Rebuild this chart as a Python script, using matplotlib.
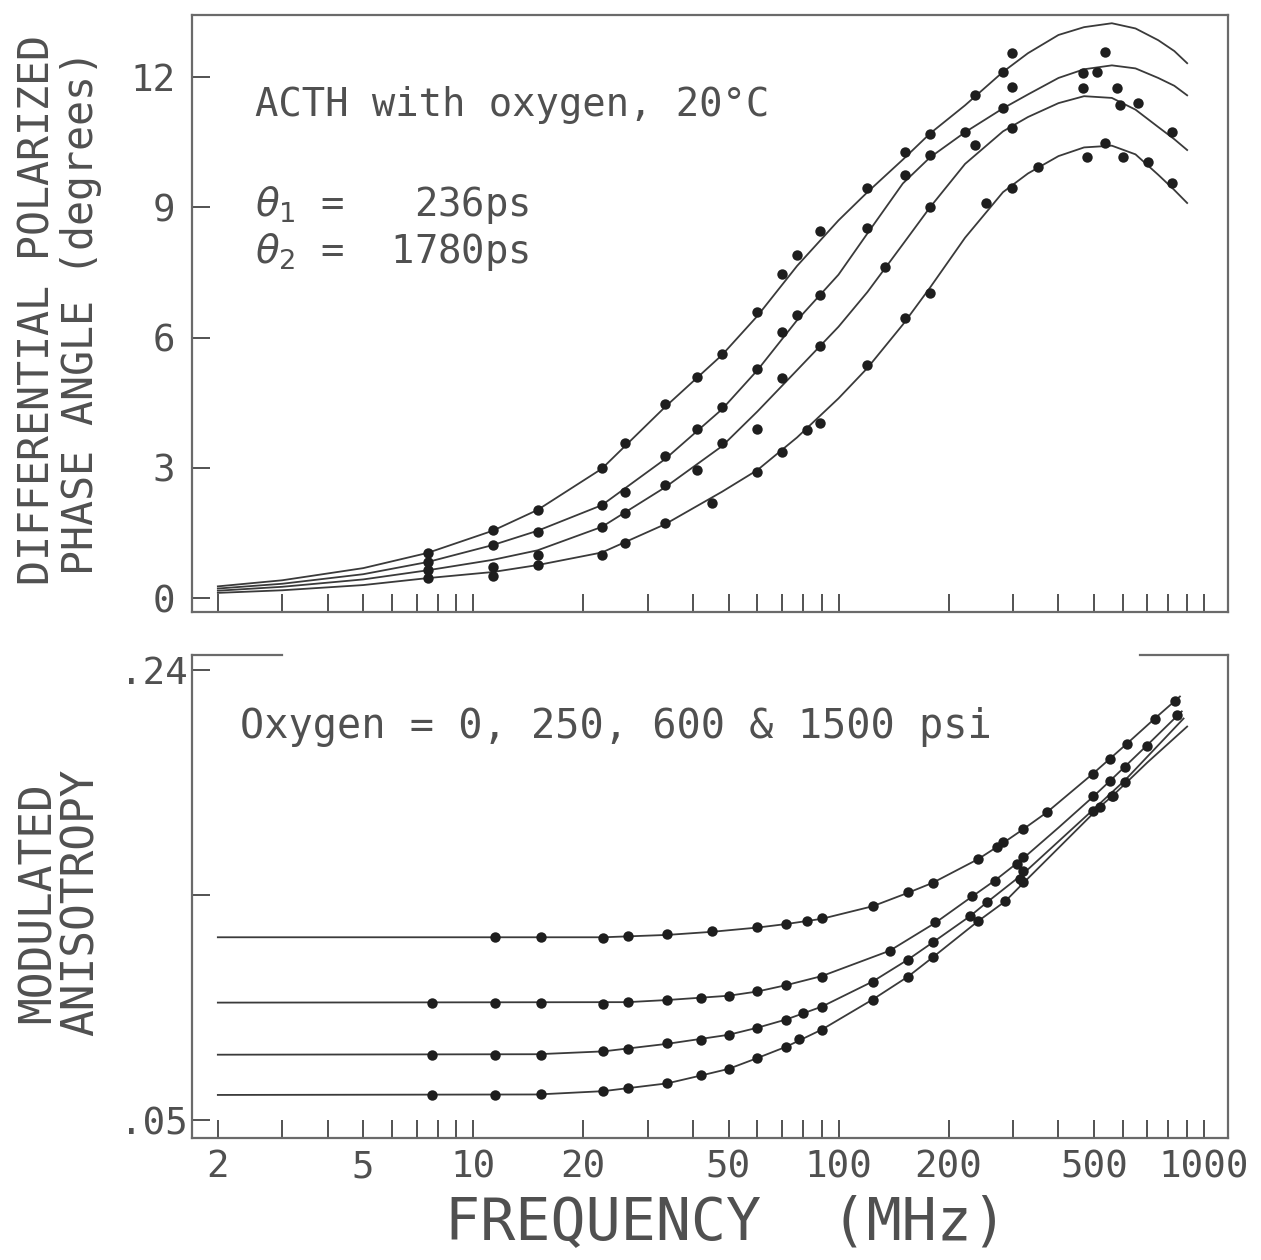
#!/usr/bin/env python

import numpy as np
import matplotlib
matplotlib.use('Agg')
import matplotlib.pyplot as plt
from matplotlib.ticker import FixedLocator, FixedFormatter

plt.rcParams['font.family'] = ['DejaVu Sans Mono', 'DejaVu Sans']
plt.rcParams['mathtext.fontset'] = 'dejavusans'

# ---- top panel: differential polarized phase angle (degrees) ----
# fitted curves
fit_freq = [2, 3, 5, 7.5, 11.3, 15, 22.5, 33.5, 48, 60, 77, 100, 120, 150, 178, 222, 282,
            330, 400, 470, 560, 650, 750, 830, 900]
fitA = [0.27, 0.41, 0.69, 1.04, 1.55, 2.03, 2.98, 4.4, 5.6, 6.5, 7.65, 8.7, 9.35, 10.1, 10.7,
        11.35, 12.12, 12.55, 12.97, 13.15, 13.24, 13.12, 12.85, 12.6, 12.32]
fitB = [0.22, 0.33, 0.55, 0.83, 1.22, 1.55, 2.14, 3.2, 4.35, 5.25, 6.4, 7.45, 8.4, 9.55, 10.15,
        10.73, 11.28, 11.6, 11.98, 12.18, 12.27, 12.2, 11.98, 11.8, 11.58]
fitC = [0.17, 0.26, 0.43, 0.64, 0.88, 1.1, 1.64, 2.55, 3.5, 4.3, 5.25, 6.25, 7.05, 8.15, 9.0,
        10.0, 10.75, 11.08, 11.4, 11.56, 11.52, 11.25, 10.85, 10.57, 10.32]
fitD = [0.12, 0.18, 0.3, 0.46, 0.6, 0.76, 1.05, 1.7, 2.45, 2.95, 3.7, 4.6, 5.3, 6.3, 7.15,
        8.3, 9.35, 9.78, 10.18, 10.38, 10.42, 10.22, 9.75, 9.4, 9.1]

# measured points
ptA_f = [7.5, 11.3, 15, 22.5, 26, 33.5, 41, 48, 60, 70, 77, 89, 120, 152, 178, 236, 282, 298, 536]
ptA_y = [1.04, 1.57, 2.03, 2.99, 3.57, 4.46, 5.09, 5.62, 6.59, 7.46, 7.9, 8.45, 9.44, 10.27, 10.7, 11.58, 12.11, 12.55, 12.57]
ptB_f = [7.5, 11.3, 15, 22.5, 26, 33.5, 41, 48, 60, 70, 77, 89, 120, 152, 178, 222, 282, 298, 466, 510]
ptB_y = [0.83, 1.22, 1.52, 2.14, 2.44, 3.27, 3.89, 4.4, 5.27, 6.13, 6.52, 6.98, 8.52, 9.74, 10.2, 10.73, 11.28, 11.77, 12.09, 12.11]
ptC_f = [7.5, 11.3, 15, 22.5, 26, 33.5, 41, 48, 60, 70, 89, 134, 178, 236, 298, 466, 578, 590, 660, 817]
ptC_y = [0.64, 0.71, 0.99, 1.64, 1.96, 2.6, 2.95, 3.57, 3.9, 5.07, 5.8, 7.62, 9.0, 10.43, 10.82, 11.75, 11.75, 11.35, 11.4, 10.73]
ptD_f = [7.5, 11.3, 15, 22.5, 26, 33.5, 45, 60, 70, 82, 89, 120, 152, 178, 254, 298, 351, 478, 536, 600, 703, 817]
ptD_y = [0.46, 0.51, 0.76, 0.99, 1.27, 1.73, 2.19, 2.9, 3.36, 3.87, 4.03, 5.37, 6.45, 7.02, 9.1, 9.44, 9.93, 10.16, 10.48, 10.16, 10.04, 9.56]

# ---- bottom panel: modulated anisotropy ----
fit1_f = [2, 22.7, 34, 45, 60, 72, 90, 124, 155, 181, 241, 282, 320, 372, 497, 553, 616, 734, 860]
fit1_y = [0.1272, 0.1272, 0.1282, 0.1295, 0.1313, 0.1328, 0.1350, 0.1403, 0.1460, 0.1502, 0.1602, 0.1670, 0.1728, 0.1800, 0.1963, 0.2026, 0.2090, 0.2196, 0.2289]
fit2_f = [2, 26.5, 34, 50, 60, 72, 90, 138, 184, 232, 268, 320, 400, 497, 553, 608, 698, 870]
fit2_y = [0.0996, 0.0998, 0.1007, 0.1025, 0.1043, 0.1070, 0.1108, 0.1215, 0.1333, 0.1444, 0.1512, 0.1605, 0.1735, 0.1865, 0.1932, 0.1993, 0.2082, 0.2226]
fit3_f = [2, 15, 22.7, 34, 50, 60, 72, 90, 124, 155, 181, 229, 255, 320, 497, 608, 880]
fit3_y = [0.0776, 0.0778, 0.0790, 0.0822, 0.0860, 0.0890, 0.0925, 0.0979, 0.1085, 0.1178, 0.1250, 0.1361, 0.1420, 0.1540, 0.1810, 0.1935, 0.2196]
fit4_f = [2, 15, 22.7, 34, 42, 50, 60, 72, 90, 124, 155, 181, 241, 286, 320, 519, 563, 700, 900]
fit4_y = [0.0606, 0.0608, 0.0622, 0.0655, 0.0688, 0.0716, 0.0762, 0.0810, 0.0882, 0.1009, 0.1106, 0.1187, 0.1340, 0.1424, 0.1500, 0.1823, 0.1870, 0.2010, 0.2162]

pt1_f = [11.5, 15.3, 22.7, 26.5, 34, 45, 60, 72, 82, 90, 124, 155, 181, 241, 272, 282, 320, 372, 497, 553, 616, 734, 833]
pt1_y = [0.1272, 0.1272, 0.1268, 0.1276, 0.1284, 0.1297, 0.1314, 0.1327, 0.1340, 0.1352, 0.1403, 0.1462, 0.1501, 0.1602, 0.1653, 0.1674, 0.1730, 0.1802, 0.1963, 0.2026, 0.2090, 0.2196, 0.2272]
pt2_f = [7.7, 11.5, 15.3, 22.7, 26.5, 34, 42, 50, 60, 72, 90, 138, 184, 232, 268, 308, 320, 497, 553, 608, 698, 844]
pt2_y = [0.0996, 0.0996, 0.0996, 0.0992, 0.1000, 0.1009, 0.1017, 0.1022, 0.1043, 0.1072, 0.1106, 0.1212, 0.1335, 0.1446, 0.1509, 0.1581, 0.1611, 0.1870, 0.1933, 0.1993, 0.2082, 0.2209]
pt3_f = [7.7, 11.5, 15.3, 22.7, 26.5, 34, 42, 50, 60, 72, 80, 90, 124, 155, 181, 229, 255, 314, 320, 497, 560, 608]
pt3_y = [0.0776, 0.0776, 0.0776, 0.0793, 0.0801, 0.0826, 0.0839, 0.0860, 0.0890, 0.0924, 0.0954, 0.0979, 0.1085, 0.1178, 0.1250, 0.1361, 0.1420, 0.1518, 0.1552, 0.1806, 0.1870, 0.1929]
pt4_f = [7.7, 11.5, 15.3, 22.7, 26.5, 34, 42, 50, 60, 72, 78, 90, 124, 155, 181, 241, 286, 320, 519, 563]
pt4_y = [0.0606, 0.0606, 0.0610, 0.0623, 0.0636, 0.0657, 0.0691, 0.0716, 0.0763, 0.0810, 0.0843, 0.0882, 0.1009, 0.1106, 0.1187, 0.1340, 0.1424, 0.1505, 0.1823, 0.1870]

xticks = [2, 3, 4, 5, 6, 7, 8, 9, 10, 20, 30, 40, 50, 60, 70, 80, 90,
          100, 200, 300, 400, 500, 600, 700, 800, 900, 1000]
xlabeled = [2, 5, 10, 20, 50, 100, 200, 500, 1000]

linecol = '#3a3a3a'
dotcol = '#1e1e1e'
spinecol = '#6a6a6a'
textcol = '#505050'

fig = plt.figure(figsize=(12.61, 12.60), dpi=100)
ax1 = fig.add_axes([0.1523, 0.5143, 0.8216, 0.4738])
ax2 = fig.add_axes([0.1523, 0.0968, 0.8216, 0.3833])

for fy in (fitA, fitB, fitC, fitD):
    ax1.plot(fit_freq, fy, color=linecol, lw=1.3)
for f, y in ((ptA_f, ptA_y), (ptB_f, ptB_y), (ptC_f, ptC_y), (ptD_f, ptD_y)):
    ax1.plot(f, y, 'o', color=dotcol, ms=7.5, mec='none')

for f, y in ((fit1_f, fit1_y), (fit2_f, fit2_y), (fit3_f, fit3_y), (fit4_f, fit4_y)):
    ax2.plot(f, y, color=linecol, lw=1.3)
for f, y in ((pt1_f, pt1_y), (pt2_f, pt2_y), (pt3_f, pt3_y), (pt4_f, pt4_y)):
    ax2.plot(f, y, 'o', color=dotcol, ms=7.5, mec='none')

for ax in (ax1, ax2):
    ax.set_xscale('log')
    ax.set_xlim(1.70, 1165)
    ax.xaxis.set_major_locator(FixedLocator(xticks))
    ax.xaxis.set_minor_locator(FixedLocator([]))
    ax.tick_params(direction='in', length=13, width=1.3, color='#444444',
                   top=False, right=False, labelcolor=textcol)
    for s in ax.spines.values():
        s.set_color(spinecol)
        s.set_linewidth(1.6)

ax1.set_ylim(-0.32, 13.43)
ax1.set_yticks([0, 3, 6, 9, 12])
ax1.set_yticklabels(['0', '3', '6', '9', '12'])
ax1.xaxis.set_major_formatter(FixedFormatter([''] * len(xticks)))
ax1.tick_params(axis='y', labelsize=27, pad=12)

ax2.set_ylim(0.0424, 0.2464)
ax2.set_yticks([0.05, 0.145, 0.24])
ax2.set_yticklabels(['.05', '', '.24'])
ax2.xaxis.set_major_formatter(FixedFormatter([str(t) if t in xlabeled else '' for t in xticks]))
ax2.tick_params(axis='y', labelsize=27, pad=3)
ax2.tick_params(axis='x', labelsize=27, pad=8)

# broken top frame of the lower panel
ax2.spines['top'].set_visible(False)
ax2.plot([0, 0.087], [1, 1], transform=ax2.transAxes, clip_on=False, color=spinecol, lw=1.6)
ax2.plot([0.915, 1], [1, 1], transform=ax2.transAxes, clip_on=False, color=spinecol, lw=1.6)

ax1.text(0.061, 0.849, 'ACTH with oxygen, 20\u00b0C', transform=ax1.transAxes,
         fontsize=28, color=textcol, va='center')
ax1.text(0.061, 0.682, r'$\theta_1$ =   236ps', transform=ax1.transAxes,
         fontsize=28, color=textcol, va='center')
ax1.text(0.061, 0.603, r'$\theta_2$ =  1780ps', transform=ax1.transAxes,
         fontsize=28, color=textcol, va='center')
ax2.text(0.046, 0.851, 'Oxygen = 0, 250, 600 & 1500 psi', transform=ax2.transAxes,
         fontsize=29, color=textcol, va='center')

fig.text(0.030, 0.754, 'DIFFERENTIAL POLARIZED', rotation=90, fontsize=30,
         color=textcol, ha='center', va='center')
fig.text(0.064, 0.752, 'PHASE ANGLE (degrees)', rotation=90, fontsize=30,
         color=textcol, ha='center', va='center')
fig.text(0.030, 0.284, 'MODULATED', rotation=90, fontsize=32,
         color=textcol, ha='center', va='center')
fig.text(0.064, 0.284, 'ANISOTROPY', rotation=90, fontsize=32,
         color=textcol, ha='center', va='center')
fig.text(0.576, 0.030, 'FREQUENCY  (MHz)', fontsize=42, color=textcol,
         ha='center', va='center')

fig.savefig('out.png', dpi=100)
